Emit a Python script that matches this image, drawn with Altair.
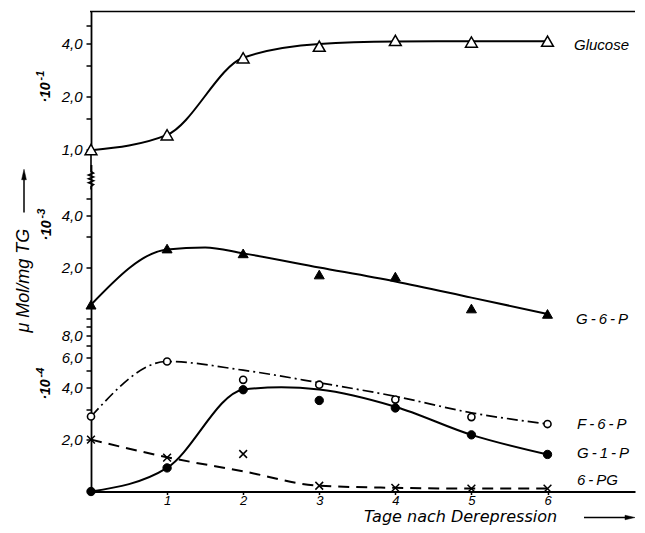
import altair as alt
import pandas as pd

FONT = "Liberation Sans"

days = [0, 1, 2, 3, 4, 5, 6]

# measured points, in the units shown on the axis (multiplier printed beside the axis)
glucose = [1.00, 1.21, 3.30, 3.84, 4.14, 4.05, 4.10]   # x 10^-1
g6p = [1.21, 2.56, 2.40, 1.81, 1.76, 1.15, 1.07]       # x 10^-3
f6p = [2.72, 5.67, 4.44, 4.16, 3.41, 2.70, 2.46]       # x 10^-4
g1p = [1.00, 1.37, 3.89, 3.37, 3.05, 2.13, 1.64]       # x 10^-4
pg6 = [2.00, 1.57, 1.65, 1.08, 1.05, 1.04, 1.04]       # x 10^-4

# hand-drawn curves
glucose_fit_days = [0, 1, 2, 3, 4, 5, 6]
glucose_fit = [0.99, 1.21, 3.30, 3.95, 4.08, 4.10, 4.10]
g6p_fit_days = [0, 1, 1.5, 2, 3, 4, 5, 6]
g6p_fit = [1.21, 2.53, 2.60, 2.40, 1.99, 1.65, 1.33, 1.07]
f6p_fit_days = [0, 1, 2, 3, 4, 5, 6]
f6p_fit = [2.72, 5.67, 5.05, 4.27, 3.56, 2.86, 2.46]
g1p_fit_days = [0, 1, 2, 2.5, 3, 4, 5, 6]
g1p_fit = [1.00, 1.37, 3.89, 4.02, 3.90, 3.10, 2.13, 1.64]
pg6_fit_days = [0, 1, 2, 3, 4, 5, 6]
pg6_fit = [2.00, 1.58, 1.31, 1.08, 1.05, 1.04, 1.04]

series_names = ["Glucose", "G\u2009-\u20096\u2009-\u2009P", "F\u2009-\u20096\u2009-\u2009P",
                "G\u2009-\u20091\u2009-\u2009P", "6\u2009-\u2009PG"]
multiplier_base = "\u00b710"
multiplier_exp = ["-1", "-3", "-4"]
x_title = "Tage nach Derepression"
y_title = "\u03bc Mol/mg TG"

top_ticks = [0.1, 0.15, 0.2, 0.3, 0.4, 0.5]
top_labeled = [0.1, 0.2, 0.4]
bot_ticks = [0.0002, 0.0003, 0.0004, 0.0005, 0.0006, 0.0007, 0.0008, 0.0009, 0.001,
             0.002, 0.003, 0.004, 0.005]
bot_labeled = [0.0002, 0.0004, 0.0006, 0.0008, 0.002, 0.004]
x_ticks = [1, 2, 3, 4, 5, 6]

W = 544


def frame(xs, ys, factor):
    return pd.DataFrame({"day": xs, "value": [v * factor for v in ys]})


xscale = alt.Scale(domain=[0, 7.15], nice=False, zero=False)
xaxis = alt.Axis(values=x_ticks, title=None, tickSize=3, labelPadding=0, format="d",
                 labelFontSize=13)

top_scale = alt.Scale(type="log", domain=[0.0937, 0.603], range=[143, 0], nice=False)
top_axis = alt.Axis(orient="left", values=top_ticks, title=None, tickSize=5, labelPadding=4,
                    labelOverlap=False,
                    labelExpr="indexof(%s, datum.value) >= 0 ? replace(format(datum.value*10, '.1f'), '.', ',') : ''"
                    % str(top_labeled))
bot_scale = alt.Scale(type="log", domain=[0.0001, 0.00786], range=[480, 153], nice=False)
bot_axis = alt.Axis(orient="left", values=bot_ticks, title=None, tickSize=5, labelPadding=4,
                    labelOverlap=False,
                    labelExpr="indexof(%s, datum.value) >= 0 ? replace(format(datum.value >= 0.001 ? datum.value*1000 : datum.value*10000, '.1f'), '.', ',') : ''"
                    % str(bot_labeled))


def enc_top(ch):
    return ch.encode(x=alt.X("day:Q", scale=xscale, axis=xaxis),
                     y=alt.Y("value:Q", scale=top_scale, axis=top_axis))


def enc_bot(ch):
    return ch.encode(x=alt.X("day:Q", scale=xscale, axis=xaxis),
                     y=alt.Y("value:Q", scale=bot_scale, axis=bot_axis))


LW = 2
CROSS = "M-1,-1L1,1M-1,1L1,-1"

top_layer = alt.layer(
    enc_top(alt.Chart(frame(glucose_fit_days, glucose_fit, 1e-1)).mark_line(
        color="black", strokeWidth=LW, interpolate="monotone")),
    enc_top(alt.Chart(frame(days, glucose, 1e-1)).mark_point(
        shape="triangle-up", filled=True, fill="white", stroke="black", strokeWidth=1.5,
        size=140, opacity=1)),
)

bottom_layer = alt.layer(
    enc_bot(alt.Chart(frame(g6p_fit_days, g6p_fit, 1e-3)).mark_line(
        color="black", strokeWidth=LW, interpolate="monotone")),
    enc_bot(alt.Chart(frame(f6p_fit_days, f6p_fit, 1e-4)).mark_line(
        color="black", strokeWidth=1.7, interpolate="monotone", strokeDash=[11, 4, 2, 4])),
    enc_bot(alt.Chart(frame(g1p_fit_days, g1p_fit, 1e-4)).mark_line(
        color="black", strokeWidth=LW, interpolate="monotone")),
    enc_bot(alt.Chart(frame(pg6_fit_days, pg6_fit, 1e-4)).mark_line(
        color="black", strokeWidth=LW, interpolate="monotone", strokeDash=[11, 7])),
    enc_bot(alt.Chart(frame(days, g6p, 1e-3)).mark_point(
        shape="triangle-up", filled=True, fill="black", stroke="black", strokeWidth=1,
        size=100, opacity=1)),
    enc_bot(alt.Chart(frame(days, f6p, 1e-4)).mark_point(
        shape="circle", filled=True, fill="white", stroke="black", strokeWidth=1.6,
        size=50, opacity=1)),
    enc_bot(alt.Chart(frame(days, g1p, 1e-4)).mark_point(
        shape="circle", filled=True, fill="black", stroke="black", strokeWidth=1,
        size=70, opacity=1)),
    enc_bot(alt.Chart(frame(days, pg6, 1e-4)).mark_point(
        shape=CROSS, filled=False, stroke="black", strokeWidth=1.5, size=60, opacity=1)),
)


def text_layer(txt, x, y, size=15, angle=0, align="left", weight="normal", font=FONT):
    return alt.Chart(pd.DataFrame({"t": [txt]})).mark_text(
        font=font, fontStyle="italic", fontSize=size, angle=angle, align=align,
        baseline="middle", fontWeight=weight, color="black"
    ).encode(text="t:N", x=alt.value(x), y=alt.value(y))


def multiplier(exp, x, y):
    return [
        text_layer(multiplier_base, x, y, size=14, angle=270, align="center", weight="bold"),
        text_layer(exp, x - 5, y - 17, size=11, angle=270, align="center", weight="bold"),
    ]


one = pd.DataFrame({"k": [0]})
deco = [
    # top frame line
    alt.Chart(one).mark_rule(color="black", strokeWidth=1.6).encode(
        x=alt.value(-1), x2=alt.value(W), y=alt.value(0)),
    # axis break
    alt.Chart(one).mark_point(
        shape="M0,-1L0,-0.03L0.14,0.06L-0.14,0.17L0.14,0.28L-0.14,0.39L0.14,0.5L-0.14,0.61L0.14,0.72L0,0.83L0,1",
        filled=False, stroke="black", strokeWidth=1.6, size=1225, opacity=1).encode(
        x=alt.value(0), y=alt.value(160.5)),
    # y title + arrow
    text_layer(y_title, -67, 321, size=18, angle=270, align="left"),
    alt.Chart(one).mark_rule(color="black", strokeWidth=1.5).encode(
        x=alt.value(-67), y=alt.value(201), y2=alt.value(166)),
    alt.Chart(one).mark_point(shape="M0,-1L0.45,1L-0.45,1Z", filled=True, fill="black",
                              stroke="black", strokeWidth=0.5, size=110, opacity=1).encode(
        x=alt.value(-67), y=alt.value(163)),
    # x title + arrow
    text_layer(x_title, 273, 505.7, size=16, font="DejaVu Sans"),
    alt.Chart(one).mark_rule(color="black", strokeWidth=1.5).encode(
        x=alt.value(493), x2=alt.value(536), y=alt.value(506)),
    alt.Chart(one).mark_point(shape="M1,0L-1,-0.45L-1,0.45Z", filled=True, fill="black",
                              stroke="black", strokeWidth=0.5, size=100, opacity=1).encode(
        x=alt.value(539), y=alt.value(506)),
    # multipliers
    *multiplier(multiplier_exp[0], -45, 81),
    *multiplier(multiplier_exp[1], -44, 219),
    *multiplier(multiplier_exp[2], -45, 378),
    # series labels
    text_layer(series_names[0], 483, 33),
    text_layer(series_names[1], 485, 307),
    text_layer(series_names[2], 486, 412),
    text_layer(series_names[3], 486, 441),
    text_layer(series_names[4], 486, 468),
]

chart = alt.layer(top_layer, bottom_layer, *deco).resolve_scale(y="independent").properties(
    width=W, height=480, padding={"left": 7, "top": 2.5, "right": 0, "bottom": 0}
).configure_view(stroke=None).configure_axis(
    grid=False, domainColor="black", domainWidth=1.8, tickColor="black", tickWidth=1.5,
    labelColor="black", labelFont=FONT, labelFontStyle="italic", labelFontSize=15,
)

chart.save("out.html", embed_options={"renderer": "svg", "actions": False})
